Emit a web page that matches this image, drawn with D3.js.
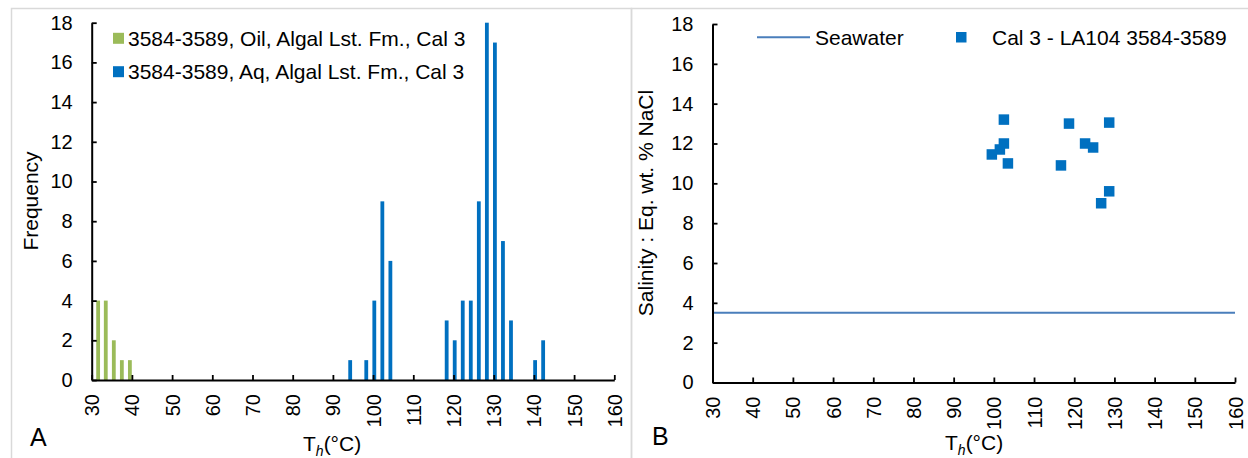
<!DOCTYPE html>
<html>
<head>
<meta charset="utf-8">
<script src="https://cdn.jsdelivr.net/npm/d3@7/dist/d3.min.js"></script>
<style>
  body { margin: 0; background: #fff; }
  svg { display: block; font-family: "Liberation Sans", Arial, sans-serif; }
  .axis path, .axis line { stroke: #000; }
  .axis path { stroke-width: 2; }
  .axis line { stroke-width: 1.8; }
  .axis text { font-size: 20px; fill: #000; font-family: "Liberation Sans", Arial, sans-serif; }
  .lbl { font-size: 21px; fill: #000; }
</style>
</head>
<body>
<svg id="chart" width="1248" height="458"></svg>
<script>
// panel A: histogram of homogenisation temperatures
var oilTh   = [31.6, 33.5, 35.5, 37.5, 39.5];
var oilFreq = [4, 4, 2, 1, 1];
var aqTh    = [94.3, 98.3, 100.3, 102.3, 104.3, 118.3, 120.3, 122.3, 124.3, 126.3, 128.3, 130.3, 132.3, 134.3, 140.3, 142.3];
var aqFreq  = [1, 1, 4, 9, 6, 3, 2, 4, 4, 9, 18, 17, 7, 3, 1, 2];

// panel B: salinity vs Th
var ptTh   = [102.5, 102.5, 101.5, 99.5, 103.5, 118.7, 116.7, 122.7, 124.7, 128.7, 128.7, 126.7];
var ptSal  = [13.2, 12.0, 11.7, 11.45, 11.0, 13.0, 10.9, 12.0, 11.8, 13.05, 9.6, 9.0];
var seawater = 3.5;

var xTicks = [30, 40, 50, 60, 70, 80, 90, 100, 110, 120, 130, 140, 150, 160];
var yTicks = [0, 2, 4, 6, 8, 10, 12, 14, 16, 18];

var green = "#9BBB59", blue = "#0070C0", lineBlue = "#4A7EBB";

var svg = d3.select("#chart");

// panel frames
svg.append("rect").attr("x", 11.5).attr("y", 8.5).attr("width", 620).attr("height", 470)
  .attr("fill", "none").attr("stroke", "#d9d9d9").attr("stroke-width", 1.5);
svg.append("rect").attr("x", 631.5).attr("y", 8.5).attr("width", 640).attr("height", 470)
  .attr("fill", "none").attr("stroke", "#d9d9d9").attr("stroke-width", 1.5);

function drawAxes(g, x, y){
  var xa = g.append("g").attr("class", "axis")
    .attr("transform", "translate(0," + y.range()[0] + ")")
    .call(d3.axisBottom(x).tickValues(xTicks).tickSizeInner(-5).tickSizeOuter(0).tickPadding(14));
  xa.selectAll("text")
    .attr("transform", "rotate(-90)")
    .attr("text-anchor", "end")
    .attr("x", -14).attr("y", 0).attr("dy", "0.35em");

  g.append("g").attr("class", "axis")
    .attr("transform", "translate(" + x.range()[0] + ",0)")
    .call(d3.axisLeft(y).tickValues(yTicks).tickSizeInner(-5).tickSizeOuter(0).tickPadding(19));
}

function thTitle(g, x, y){
  var t = g.append("text").attr("class", "lbl").attr("x", x).attr("y", y);
  t.append("tspan").text("T");
  t.append("tspan").attr("font-style", "italic").attr("font-size", "14px").attr("dy", 5).text("h");
  t.append("tspan").attr("dy", -5).text("(°C)");
}

// ---- panel A
var gA = svg.append("g");
var xA = d3.scaleLinear().domain([30, 160]).range([91.7, 614.3]);
var yA = d3.scaleLinear().domain([0, 18]).range([380, 22.7]);
var barW = 3.8;

gA.selectAll("rect.oil").data(oilTh).enter().append("rect")
  .attr("class", "oil")
  .attr("x", function(d){ return xA(d) - barW / 2; })
  .attr("y", function(d, i){ return yA(oilFreq[i]); })
  .attr("width", barW)
  .attr("height", function(d, i){ return yA(0) - yA(oilFreq[i]); })
  .attr("fill", green);

gA.selectAll("rect.aq").data(aqTh).enter().append("rect")
  .attr("class", "aq")
  .attr("x", function(d){ return xA(d) - barW / 2; })
  .attr("y", function(d, i){ return yA(aqFreq[i]); })
  .attr("width", barW)
  .attr("height", function(d, i){ return yA(0) - yA(aqFreq[i]); })
  .attr("fill", blue);

drawAxes(gA, xA, yA);

// legend A
var legA = [["3584-3589, Oil, Algal Lst. Fm., Cal 3", green], ["3584-3589, Aq, Algal Lst. Fm., Cal 3", blue]];
legA.forEach(function(l, i){
  var cy = 38.3 + i * 33.4;
  gA.append("rect").attr("x", 113).attr("y", cy - 5.5).attr("width", 11).attr("height", 11).attr("fill", l[1]);
  gA.append("text").attr("class", "lbl").attr("x", 128).attr("y", cy + 7.5).text(l[0]);
});

gA.append("text").attr("class", "lbl")
  .attr("transform", "translate(38,201) rotate(-90)")
  .attr("text-anchor", "middle").text("Frequency");

thTitle(gA, 303, 451);

gA.append("text").attr("x", 30).attr("y", 446).attr("font-size", "25px").text("A");

// ---- panel B
var gB = svg.append("g");
var xB = d3.scaleLinear().domain([30, 160]).range([712.5, 1235]);
var yB = d3.scaleLinear().domain([0, 18]).range([382.5, 24]);

gB.append("line")
  .attr("x1", xB(30)).attr("x2", xB(160))
  .attr("y1", yB(seawater)).attr("y2", yB(seawater))
  .attr("stroke", lineBlue).attr("stroke-width", 2);

var mk = 10.5;
gB.selectAll("rect.pt").data(ptTh).enter().append("rect")
  .attr("class", "pt")
  .attr("x", function(d){ return xB(d) - mk / 2; })
  .attr("y", function(d, i){ return yB(ptSal[i]) - mk / 2; })
  .attr("width", mk).attr("height", mk)
  .attr("fill", blue);

drawAxes(gB, xB, yB);

// legend B
gB.append("line").attr("x1", 757).attr("x2", 810).attr("y1", 37.3).attr("y2", 37.3)
  .attr("stroke", lineBlue).attr("stroke-width", 2);
gB.append("text").attr("class", "lbl").attr("x", 815).attr("y", 44.8).text("Seawater");
gB.append("rect").attr("x", 956).attr("y", 32).attr("width", mk).attr("height", mk).attr("fill", blue);
gB.append("text").attr("class", "lbl").attr("x", 992).attr("y", 44.8).text("Cal 3 - LA104 3584-3589");

gB.append("text").attr("class", "lbl")
  .attr("transform", "translate(653,203) rotate(-90)")
  .attr("text-anchor", "middle").text("Salinity : Eq. wt. % NaCl");

thTitle(gB, 945, 450);

gB.append("text").attr("x", 652).attr("y", 445).attr("font-size", "25px").text("B");
</script>
</body>
</html>
